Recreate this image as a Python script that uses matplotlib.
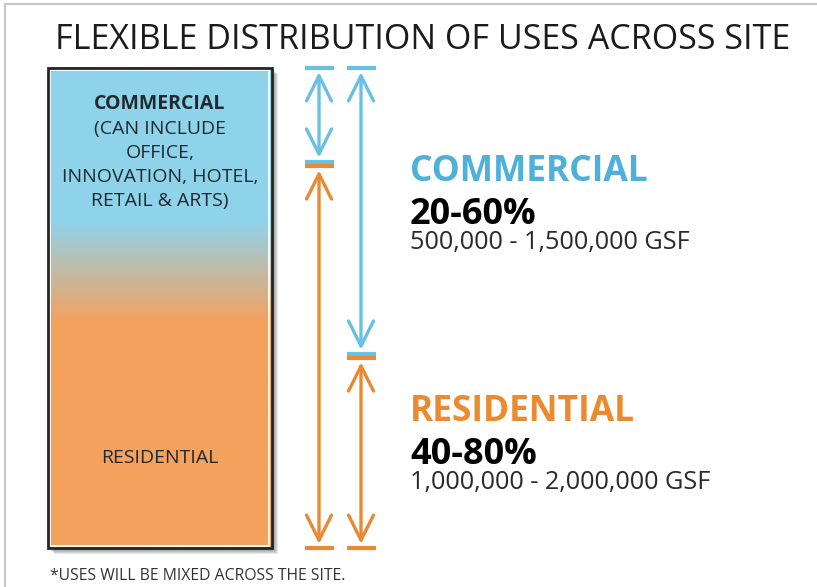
import numpy as np
import matplotlib
matplotlib.use("Agg")
import matplotlib.pyplot as plt
from matplotlib.patches import Rectangle
from matplotlib.colors import to_rgb

plt.rcParams['font.family'] = ['Open Sans', 'DejaVu Sans']

# data
categories = ["COMMERCIAL", "RESIDENTIAL"]
share_min = [20, 40]
share_max = [60, 80]
gsf_min = [500000, 1000000]
gsf_max = [1500000, 2000000]
commercial_note = ["(CAN INCLUDE", "OFFICE,", "INNOVATION, HOTEL,", "RETAIL & ARTS)"]

BLUE_FILL = "#8fd3ea"
ORANGE_FILL = "#f4a25e"
BLUE_LINE = "#67c1e2"
ORANGE_LINE = "#e98a33"
BLUE_TEXT = "#4fb1d9"
ORANGE_TEXT = "#ec8a2f"

W, H = 817, 587
fig = plt.figure(figsize=(W / 100, H / 100), dpi=100)
fig.patch.set_facecolor("white")

# bar spans 0..100 % between pixel rows 548 and 68
PX = 4.8
BAR_TOP, BAR_BOT = 68, 548
ax = fig.add_axes([0, 0, 1, 1])
ax.set_xlim(0, W)
ax.set_ylim(-(H - BAR_BOT) / PX, 100 + BAR_TOP / PX)
ax.axis("off")

def fx(x):
    return x / W

def fy(y):
    return 1 - y / H

# frame lines
fig.add_artist(plt.Line2D([fx(5), 1], [fy(4), fy(4)], color="#c9c9c9", lw=1.6))
fig.add_artist(plt.Line2D([fx(5), fx(5)], [fy(4), 0], color="#c9c9c9", lw=1.6))

# bar: shadow, gradient, border
bx0, bx1 = 48, 272
for k in range(1, 7):
    ax.add_patch(Rectangle((bx0 + k, -k / PX), bx1 - bx0, 100, facecolor="black",
                           edgecolor="none", alpha=0.09, zorder=1))

c_top = np.array(to_rgb(BLUE_FILL))
c_bot = np.array(to_rgb(ORANGE_FILL))
yy = np.linspace(100, 0, 400)
t = np.clip((68 - yy) / (68 - 47), 0, 1)
grad = (1 - t)[:, None] * c_top + t[:, None] * c_bot
ax.imshow(grad[:, None, :], extent=[bx0, bx1, 0, 100], aspect="auto", zorder=2,
          interpolation="bilinear")
ax.add_patch(Rectangle((bx0 + 2.5, 2.5 / PX), bx1 - bx0 - 5, 100 - 5 / PX, fill=False,
                       edgecolor="white", lw=1.3, zorder=3))
ax.add_patch(Rectangle((bx0, 0), bx1 - bx0, 100, fill=False, edgecolor="#262626",
                       lw=2.0, zorder=4))

# arrows: column 1 uses commercial min / residential max, column 2 the opposite
gap = 0.45
columns = [(319, share_min[0], share_max[1]), (361, share_max[0], share_min[1])]
for x, com, res in columns:
    split = 100 - com
    ax.hlines([100], x - 14, x + 15, color=BLUE_LINE, lw=3, zorder=5)
    ax.hlines([split + gap], x - 14, x + 15, color=BLUE_LINE, lw=3, zorder=5)
    ax.hlines([split - gap], x - 14, x + 15, color=ORANGE_LINE, lw=3, zorder=5)
    ax.hlines([0], x - 14, x + 15, color=ORANGE_LINE, lw=3, zorder=5)
    style = "<->,head_length=0.9,head_width=0.45"
    ax.annotate("", xy=(x, 100), xytext=(x, split + gap),
                arrowprops=dict(arrowstyle=style, color=BLUE_LINE, lw=2.4,
                                mutation_scale=20, shrinkA=3, shrinkB=3))
    ax.annotate("", xy=(x, split - gap), xytext=(x, 0),
                arrowprops=dict(arrowstyle=style, color=ORANGE_LINE, lw=2.4,
                                mutation_scale=20, shrinkA=3, shrinkB=3))

# texts
fig.text(fx(423), fy(40), "FLEXIBLE DISTRIBUTION OF USES ACROSS SITE", ha="center",
         va="center", fontsize=24.5, color="#1b1b1b")

bar_cx = (bx0 + bx1) / 2
dark = "#1f2a30"
fig.text(fx(bar_cx), fy(104), categories[0], ha="center", va="center", fontsize=14,
         fontweight="bold", color=dark)
for i, line in enumerate(commercial_note):
    fig.text(fx(bar_cx), fy(129 + i * 24), line, ha="center", va="center",
             fontsize=14, color=dark)
fig.text(fx(bar_cx), fy(458), categories[1], ha="center", va="center", fontsize=14,
         color=dark)

label_colors = [BLUE_TEXT, ORANGE_TEXT]
label_y = [172, 412]
for i, cat in enumerate(categories):
    y0 = label_y[i]
    fig.text(fx(410), fy(y0), cat, ha="left", va="center", fontsize=25.5,
             fontweight="bold", color=label_colors[i])
    fig.text(fx(410), fy(y0 + 43), f"{share_min[i]}-{share_max[i]}%", ha="left",
             va="center", fontsize=26, fontweight="bold", color="black")
    fig.text(fx(410), fy(y0 + 70), f"{gsf_min[i]:,} - {gsf_max[i]:,} GSF", ha="left",
             va="center", fontsize=18.2, color="#2a2a2a")

fig.text(fx(50), fy(576), "*USES WILL BE MIXED ACROSS THE SITE.", ha="left",
         va="center", fontsize=11.3, color="#333333")

fig.savefig("out.png", dpi=100)
